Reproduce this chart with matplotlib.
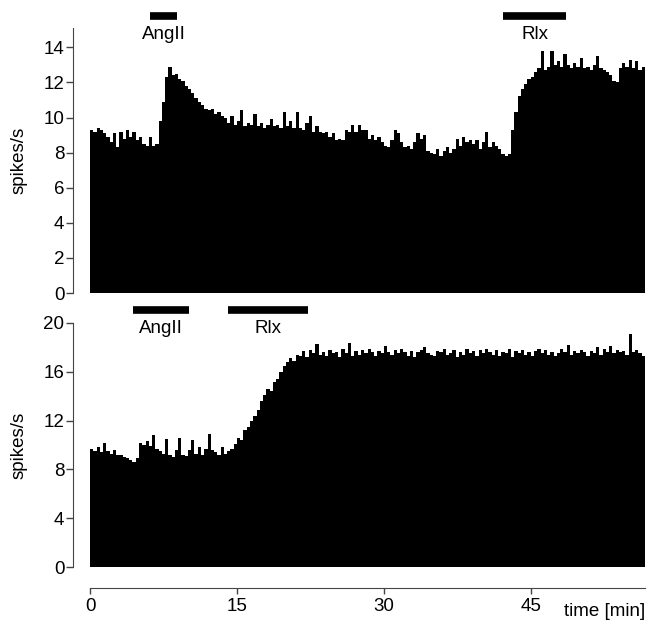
import numpy as np
import matplotlib
matplotlib.use("Agg")
import matplotlib.pyplot as plt

plt.rcParams['font.family'] = ['Liberation Sans', 'DejaVu Sans']

bin_width_min = 1 / 3  # 20-s bins

# Top panel: spikes/s per bin
top_rate = [
    9.3, 9.2, 9.4, 9.3, 9.1, 8.9, 8.6, 9.1, 8.3, 9.2, 8.8, 9.3,
    8.9, 9.2, 8.7, 8.9, 8.5, 8.4, 8.9, 8.4, 8.5, 9.8, 10.9, 12.3,
    12.9, 12.4, 12.5, 12.2, 12.1, 11.8, 11.6, 11.4, 11.1, 10.9, 10.7, 10.5,
    10.4, 10.5, 10.2, 10.3, 10.1, 10.0, 9.7, 10.1, 9.6, 9.8, 10.4, 9.5,
    9.7, 9.6, 10.2, 9.5, 9.7, 9.4, 9.6, 9.9, 9.5, 9.6, 9.4, 10.3,
    9.5, 9.8, 9.4, 10.3, 9.4, 9.3, 9.7, 10.1, 9.2, 9.5, 9.2, 9.1,
    9.2, 8.9, 9.1, 8.7, 8.8, 8.7, 9.3, 9.2, 9.6, 9.2, 9.6, 9.3,
    9.3, 8.8, 9.0, 8.7, 8.9, 8.6, 8.4, 8.3, 8.7, 9.3, 9.1, 8.6,
    8.3, 8.4, 8.2, 8.6, 9.1, 8.8, 9.0, 8.1, 8.0, 7.9, 8.2, 7.8,
    8.1, 8.3, 8.0, 8.2, 8.8, 8.4, 8.9, 8.6, 8.7, 8.5, 8.7, 8.2,
    8.6, 9.2, 8.3, 8.6, 8.4, 8.2, 7.9, 7.8, 7.9, 9.3, 10.3, 11.2,
    11.6, 11.9, 12.2, 12.3, 12.6, 12.8, 13.8, 12.7, 12.9, 13.8, 13.0, 13.2,
    12.9, 13.6, 13.0, 12.8, 13.1, 12.9, 13.4, 12.8, 12.9, 12.7, 13.0, 13.5,
    12.8, 12.7, 12.6, 12.4, 12.1, 12.0, 12.8, 13.1, 12.9, 13.3, 12.8, 13.2,
    12.7, 12.9,
]

# Bottom panel: spikes/s per bin
bottom_rate = [
    9.7, 9.5, 9.8, 9.4, 10.2, 9.5, 9.3, 9.6, 9.2, 9.2, 9.0, 8.9,
    8.8, 8.6, 8.9, 10.2, 10.0, 10.3, 9.9, 10.8, 9.7, 9.5, 9.3, 10.5,
    9.2, 9.0, 9.6, 10.6, 9.2, 9.1, 9.6, 10.4, 9.3, 9.8, 9.2, 9.7,
    10.9, 9.6, 9.4, 9.2, 9.8, 9.3, 9.5, 9.7, 10.1, 10.6, 10.4, 11.2,
    11.5, 12.0, 12.4, 12.9, 13.6, 14.1, 14.6, 14.4, 15.2, 15.4, 16.0, 16.5,
    16.8, 17.1, 16.9, 17.4, 17.3, 17.7, 17.2, 17.8, 17.5, 18.3, 17.4, 17.6,
    17.3, 17.8, 17.5, 17.6, 17.2, 17.9, 17.5, 18.4, 17.3, 17.7, 17.4, 17.8,
    17.5, 17.9, 17.6, 17.3, 17.7, 17.5, 18.1, 17.6, 17.4, 17.8, 17.5, 17.9,
    17.6, 17.3, 17.7, 17.2, 17.6, 17.8, 18.0, 17.5, 17.4, 17.3, 17.7, 17.6,
    17.9, 17.4, 17.5, 17.8, 17.2, 17.6, 17.4, 17.9, 17.5, 17.7, 17.3, 17.8,
    17.5, 17.9, 17.6, 17.4, 17.8, 17.3, 17.6, 17.5, 17.9, 17.2, 17.7, 17.5,
    17.8, 17.4, 17.6, 17.3, 17.7, 17.9, 17.5, 17.8, 17.4, 17.6, 17.3, 17.5,
    17.9, 17.6, 18.2, 17.4, 17.7, 17.5, 17.8, 17.6, 17.3, 17.7, 17.5, 18.0,
    17.4, 17.9, 17.6, 18.1, 17.5, 17.8, 17.6, 17.7, 17.4, 19.1, 17.6, 17.8,
    17.5, 17.3,
]

# Drug application periods (min)
top_drugs = [("AngII", 6.1, 8.9), ("Rlx", 42.2, 48.6)]
bottom_drugs = [("AngII", 4.4, 10.1), ("Rlx", 14.1, 22.3)]

top_yticks = [0, 2, 4, 6, 8, 10, 12, 14]
bottom_yticks = [0, 4, 8, 12, 16, 20]
xticks = [0, 15, 30, 45]

W, H = 647, 621
fig = plt.figure(figsize=(W / 100, H / 100), dpi=100)

def frac(left, right, top_px, bottom_px):
    return [left / W, 1 - bottom_px / H, (right - left) / W, (bottom_px - top_px) / H]

ax1 = fig.add_axes(frac(90, 645, 28, 293))
ax2 = fig.add_axes(frac(90, 645, 323, 567))

fs = 13.5
axc = '#444444'
for ax, rate, yt, ymax, drugs, bar_y, txt_y in [
    (ax1, top_rate, top_yticks, 15.1, top_drugs, 15.8, 14.75),
    (ax2, bottom_rate, bottom_yticks, 20.0, bottom_drugs, 21.1, 19.55),
]:
    edges = np.arange(len(rate) + 1) * bin_width_min
    ax.stairs(rate, edges, fill=True, color='black', linewidth=0)
    ax.set_xlim(0, edges[-1])
    ax.set_ylim(0, ymax)
    ax.set_yticks(yt)
    ax.tick_params(axis='y', labelsize=fs, length=5, width=1, color=axc, pad=1.5)
    for s in ['top', 'right']:
        ax.spines[s].set_visible(False)
    ax.spines['left'].set_position(('outward', 12))
    ax.spines['left'].set_color(axc)
    ax.spines['left'].set_bounds(0, ymax)
    ax.set_ylabel('spikes/s', fontsize=fs)
    for name, t0, t1 in drugs:
        ax.plot([t0, t1], [bar_y, bar_y], color='black', lw=5.5,
                solid_capstyle='butt', clip_on=False)
        ax.text((t0 + t1) / 2, txt_y, name, ha='center', va='center', fontsize=fs)

ax1.spines['bottom'].set_visible(False)
ax1.set_xticks([])

ax2.spines['bottom'].set_position(('outward', 15))
ax2.spines['bottom'].set_color(axc)
ax2.set_xticks(xticks)
ax2.tick_params(axis='x', labelsize=fs, length=4, width=1, color=axc, pad=3)
fig.text(645 / W, 1 - 611 / H, 'time [min]', ha='right', va='center', fontsize=fs)

ax1.yaxis.set_label_coords(-62 / 555, 0.5)
ax2.yaxis.set_label_coords(-62 / 555, 0.5)

fig.savefig('out.png', dpi=100)
